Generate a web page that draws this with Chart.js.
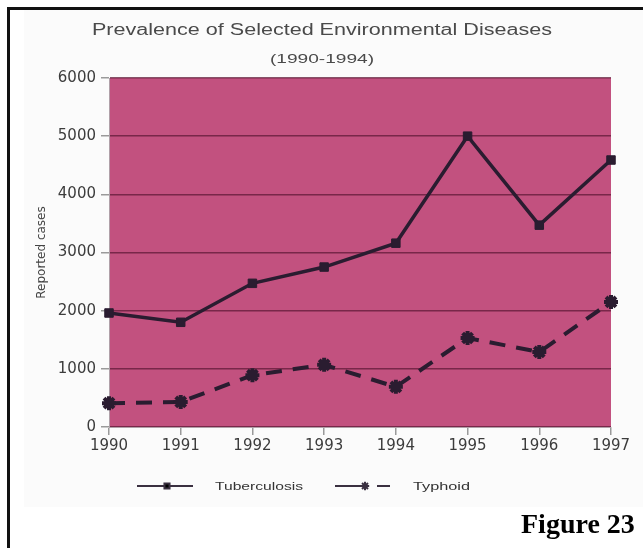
<!DOCTYPE html>
<html>
<head>
<meta charset="utf-8">
<title>Prevalence of Selected Environmental Diseases</title>
<script src="https://cdn.jsdelivr.net/npm/chart.js@4/dist/chart.umd.min.js"></script>
<style>
  html, body { margin: 0; padding: 0; background: #ffffff; }
  #wrap { width: 643px; height: 548px; }
</style>
</head>
<body>
<div id="wrap"><canvas id="c" width="643" height="548"></canvas></div>
<script>
// Reported cases per year
const years = ['1990', '1991', '1992', '1993', '1994', '1995', '1996', '1997'];
const tuberculosis = [1960, 1800, 2470, 2750, 3160, 5000, 3470, 4590];
const typhoid = [410, 430, 890, 1070, 690, 1530, 1290, 2150];
const yTicks = [0, 1000, 2000, 3000, 4000, 5000, 6000];

const titleText = 'Prevalence of Selected Environmental Diseases';
const subtitleText = '(1990-1994)';
const figureText = 'Figure 23';

const INK = '#2a1c30';
const PLOT_FILL = '#c2517f';

// Draws text stretched horizontally to a given width
function stretchedText(ctx, text, x, y, font, width, color, align) {
  ctx.save();
  ctx.font = font;
  ctx.fillStyle = color;
  ctx.textAlign = align || 'center';
  ctx.textBaseline = 'alphabetic';
  const w = ctx.measureText(text).width;
  ctx.translate(x, y);
  ctx.scale(width / w, 1);
  ctx.fillText(text, 0, 0);
  ctx.restore();
}

const framePlugin = {
  id: 'frame',
  beforeDraw(chart) {
    const { ctx, chartArea: a } = chart;
    ctx.save();
    ctx.fillStyle = '#ffffff';
    ctx.fillRect(0, 0, chart.width, chart.height);
    ctx.fillStyle = '#fbfbfb';
    ctx.fillRect(24, 10, chart.width - 24, 497);
    // black frame lines
    ctx.fillStyle = '#111111';
    ctx.fillRect(7, 7, chart.width - 7, 3);
    ctx.fillRect(7, 7, 3, chart.height - 7);
    // plot background
    ctx.fillStyle = PLOT_FILL;
    ctx.fillRect(a.left, a.top, a.right - a.left, a.bottom - a.top);
    ctx.restore();
  },
  afterDraw(chart) {
    const { ctx } = chart;
    stretchedText(ctx, titleText, 322, 35, '16px "Liberation Sans"', 460, '#4a4a4a');
    stretchedText(ctx, subtitleText, 322, 63, '12px "Liberation Sans"', 104, '#4a4a4a');

    // legend
    const ly = 486;
    const items = [
      { ds: chart.data.datasets[0], x0: 137, x1: 193, mx: 167, tx: 215, tw: 88, dash: [] },
      { ds: chart.data.datasets[1], x0: 335, x1: 390, mx: 365, tx: 413, tw: 57, dash: [26, 16] }
    ];
    ctx.save();
    items.forEach(it => {
      ctx.strokeStyle = '#3a3040';
      ctx.lineWidth = 2;
      ctx.setLineDash(it.dash);
      ctx.beginPath();
      ctx.moveTo(it.x0, ly);
      ctx.lineTo(it.x1, ly);
      ctx.stroke();
      ctx.setLineDash([]);
      Chart.helpers.drawPoint(ctx, {
        pointStyle: it.ds.pointStyle,
        radius: it.ds.pointRadius * 0.6,
        borderWidth: 2,
        rotation: 0
      }, it.mx, ly);
      stretchedText(ctx, it.ds.label, it.tx, ly + 4, '11px "Liberation Sans"', it.tw, '#333333', 'left');
    });
    ctx.fillStyle = '#000000';
    ctx.font = 'bold 28px "Liberation Serif"';
    ctx.textAlign = 'left';
    ctx.textBaseline = 'alphabetic';
    ctx.fillText(figureText, 521, 533);
    ctx.restore();
  }
};

new Chart(document.getElementById('c'), {
  type: 'line',
  data: {
    labels: years,
    datasets: [
      {
        label: 'Tuberculosis',
        data: tuberculosis,
        borderColor: INK,
        backgroundColor: INK,
        borderWidth: 3.5,
        pointStyle: 'rect',
        pointRadius: 6,
        pointBorderWidth: 1,
        tension: 0
      },
      {
        label: 'Typhoid',
        data: typhoid,
        borderColor: INK,
        backgroundColor: INK,
        borderWidth: 4,
        borderDash: [16, 11],
        pointStyle: 'star',
        pointRadius: 7,
        pointBorderWidth: 4,
        tension: 0
      }
    ]
  },
  options: {
    responsive: false,
    animation: false,
    layout: { padding: { top: 78, left: 10, right: 32, bottom: 10 } },
    plugins: {
      legend: { display: false },
      title: { display: false },
      tooltip: { enabled: false }
    },
    scales: {
      x: {
        type: 'category',
        offset: false,
        grid: {
          drawOnChartArea: false,
          drawTicks: true,
          tickLength: 8,
          tickColor: '#9a9a9a',
          lineWidth: 1.5
        },
        border: { display: true, color: '#b0a0a8', width: 1 },
        ticks: {
          color: '#3c3c3c',
          font: { family: 'DejaVu Sans', size: 15 },
          padding: 2,
          maxRotation: 0,
          autoSkip: false
        },
        afterFit(scale) { scale.height = 111; }
      },
      y: {
        min: 0,
        max: 6000,
        afterBuildTicks(scale) { scale.ticks = yTicks.map(v => ({ value: v })); },
        grid: {
          color: 'rgba(95, 25, 55, 0.75)',
          lineWidth: 1.5,
          tickColor: '#9a9a9a',
          tickLength: 8
        },
        border: { display: true, color: '#b0a0a8', width: 1 },
        ticks: {
          color: '#3c3c3c',
          font: { family: 'DejaVu Sans', size: 15 },
          padding: 5,
          callback: v => String(v)
        },
        title: {
          display: true,
          text: 'Reported cases',
          color: '#444444',
          font: { family: 'DejaVu Sans', size: 12 },
          padding: { top: 25, bottom: 0 }
        },
        afterFit(scale) { scale.width = 99; }
      }
    }
  },
  plugins: [framePlugin]
});
</script>
</body>
</html>
